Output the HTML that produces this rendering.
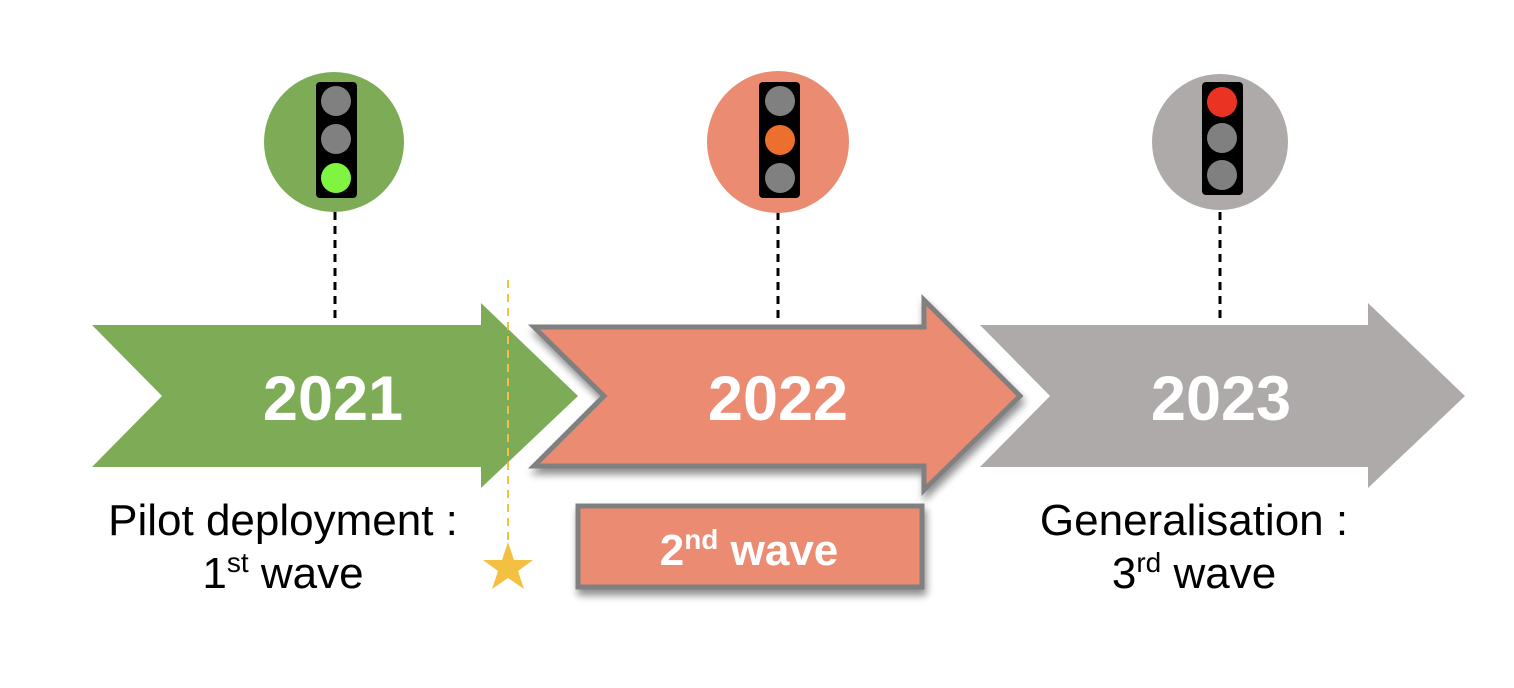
<!DOCTYPE html>
<html><head><style>
html,body{margin:0;padding:0;background:#fff;width:1514px;height:688px;overflow:hidden}
</style></head><body>
<svg width="1514" height="688" viewBox="0 0 1514 688" xmlns="http://www.w3.org/2000/svg" font-family="Liberation Sans, Arial, sans-serif">
<defs>
<filter id="sh" x="-10%" y="-10%" width="130%" height="140%">
<feGaussianBlur in="SourceAlpha" stdDeviation="4"/>
<feOffset dx="2" dy="6"/>
<feComponentTransfer><feFuncA type="linear" slope="0.45"/></feComponentTransfer>
<feMerge><feMergeNode/><feMergeNode in="SourceGraphic"/></feMerge>
</filter>
</defs>
<g stroke="#000" stroke-width="3" stroke-dasharray="8,6">
<line x1="335" y1="212" x2="335" y2="324"/>
<line x1="778" y1="212" x2="778" y2="324"/>
<line x1="1220" y1="212" x2="1220" y2="324"/>
</g>
<circle cx="334" cy="142" r="70" fill="#7eab55"/>
<circle cx="778" cy="142" r="71" fill="#eb8b72"/>
<circle cx="1220" cy="142" r="68" fill="#aeaaaa"/>
<g>
<rect x="316" y="82" width="41" height="116" rx="4" fill="#000"/>
<circle cx="336" cy="101" r="15" fill="#808080"/>
<circle cx="336" cy="139" r="15" fill="#808080"/>
<circle cx="336" cy="178" r="15" fill="#7ff542"/>
<rect x="759" y="82" width="41" height="116" rx="4" fill="#000"/>
<circle cx="780" cy="101" r="15" fill="#808080"/>
<circle cx="780" cy="140" r="15" fill="#ec6f2d"/>
<circle cx="780" cy="178" r="15" fill="#808080"/>
<rect x="1202" y="82" width="41" height="113" rx="4" fill="#000"/>
<circle cx="1222" cy="102" r="15" fill="#ea3323"/>
<circle cx="1222" cy="138" r="15" fill="#808080"/>
<circle cx="1222" cy="175" r="15" fill="#808080"/>
</g>
<polygon points="92,325 481,325 481,303 578,396 481,488 481,467 92,467 162,396" fill="#7eab55"/>
<polygon points="980,325 1368,325 1368,303 1465,396 1368,488 1368,467 980,467 1050,396" fill="#aeaaaa"/>
<polygon points="534,327 924,327 924,300 1020,396 924,490 924,466 534,466 604,396" fill="#eb8b72" stroke="#808080" stroke-width="5" stroke-linejoin="miter" filter="url(#sh)"/>
<line x1="508" y1="280" x2="508" y2="548" stroke="#f4c042" stroke-width="2" stroke-dasharray="8,6"/>
<polygon points="508,542 514,560 533,560 518,571 524,589 508,578 492,589 498,571 483,560 502,560" fill="#f4c042"/>
<g fill="#fff" font-weight="bold" font-size="63" text-anchor="middle">
<text x="333" y="420">2021</text>
<text x="778" y="420">2022</text>
<text x="1221" y="420">2023</text>
</g>
<rect x="578" y="506" width="344" height="81" fill="#eb8b72" stroke="#808080" stroke-width="5" filter="url(#sh)"/>
<text x="749" y="565" text-anchor="middle" fill="#fff" font-weight="bold" font-size="44">2<tspan font-size="28" dy="-16">nd</tspan><tspan dy="16"> wave</tspan></text>
<g fill="#000" font-size="44" text-anchor="middle">
<text x="283" y="535">Pilot deployment :</text>
<text x="283" y="588">1<tspan font-size="28" dy="-16">st</tspan><tspan dy="16"> wave</tspan></text>
<text x="1194" y="535">Generalisation :</text>
<text x="1194" y="588">3<tspan font-size="28" dy="-16">rd</tspan><tspan dy="16"> wave</tspan></text>
</g>
</svg>
</body></html>
